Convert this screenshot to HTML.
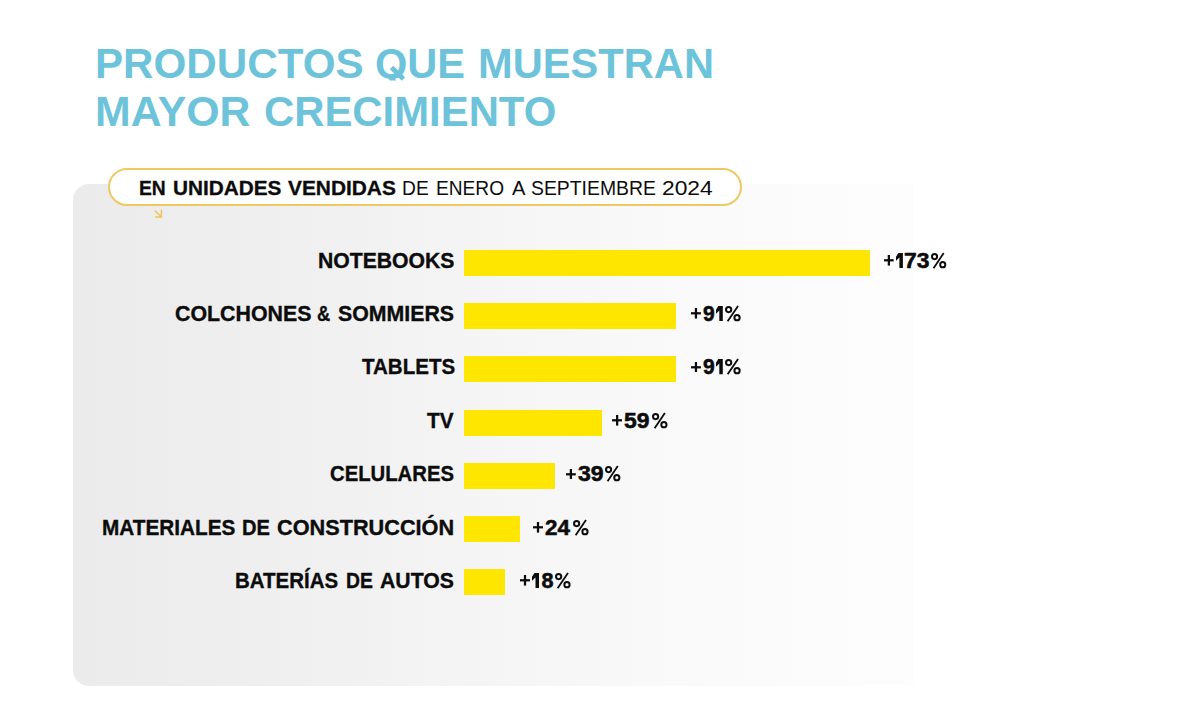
<!DOCTYPE html>
<html>
<head>
<meta charset="utf-8">
<style>
html,body{margin:0;padding:0;}
body{width:1184px;height:726px;background:#ffffff;position:relative;overflow:hidden;font-family:"Liberation Sans",sans-serif;}
.t{position:absolute;white-space:nowrap;line-height:1;transform-origin:0 0;}
.panel{position:absolute;left:73px;top:184px;width:840px;height:502px;border-radius:16px 0 0 16px;background:linear-gradient(to right,#ebebeb 0%,#f1f0f1 28%,#f6f5f6 50%,#fbfafb 75%,#fefdfe 100%);}
.pill{position:absolute;left:108px;top:167.5px;width:630px;height:34px;border:2px solid #EEC862;border-radius:20px;background:#ffffff;}
.bar{position:absolute;left:464px;height:26px;background:#FFE600;}
</style>
</head>
<body>
<div class="panel"></div>
<div class="pill"></div>
<svg style="position:absolute;left:0;top:0;" width="1184" height="726" viewBox="0 0 1184 726"><path d="M391.5 67.5 L403.5 79" stroke="#6DC4DA" stroke-width="5" fill="none"/><path d="M154.6 210.4 L161 216.6 M161.4 209.8 L161.4 217 L155 217" stroke="#EEC55C" stroke-width="1.45" fill="none"/></svg>
<div class="bar" style="top:250px;width:406px;"></div>
<div class="bar" style="top:303px;width:212px;"></div>
<div class="bar" style="top:356px;width:212px;"></div>
<div class="bar" style="top:410px;width:138px;"></div>
<div class="bar" style="top:463px;width:91px;"></div>
<div class="bar" style="top:516px;width:56px;"></div>
<div class="bar" style="top:569px;width:41px;"></div>
<div class="t" style="left:94.99px;top:43.00px;font-size:42px;font-weight:700;color:#6DC4DA;-webkit-text-stroke:0.0px #6DC4DA;transform:scaleX(1.0038)">PRODUCTOS</div>
<div class="t" style="left:375.01px;top:43.00px;font-size:42px;font-weight:700;color:#6DC4DA;-webkit-text-stroke:0.0px #6DC4DA;transform:scaleX(0.9888);clip-path:inset(0 0 4.5px 0)">QUE</div>
<div class="t" style="left:478.02px;top:43.00px;font-size:42px;font-weight:700;color:#6DC4DA;-webkit-text-stroke:0.0px #6DC4DA;transform:scaleX(0.9915)">MUESTRAN</div>
<div class="t" style="left:94.96px;top:91.00px;font-size:42px;font-weight:700;color:#6DC4DA;-webkit-text-stroke:0.0px #6DC4DA;transform:scaleX(1.0200)">MAYOR</div>
<div class="t" style="left:264.00px;top:91.00px;font-size:42px;font-weight:700;color:#6DC4DA;-webkit-text-stroke:0.0px #6DC4DA;transform:scaleX(0.9966)">CRECIMIENTO</div>
<div class="t" style="left:139.00px;top:177.50px;font-size:20px;font-weight:700;color:#0c0c0c;-webkit-text-stroke:0.3px #0c0c0c;transform:scaleX(0.9630)">EN</div>
<div class="t" style="left:173.00px;top:177.50px;font-size:20px;font-weight:700;color:#0c0c0c;-webkit-text-stroke:0.3px #0c0c0c;transform:scaleX(1.0385)">UNIDADES</div>
<div class="t" style="left:288.00px;top:177.50px;font-size:20px;font-weight:700;color:#0c0c0c;-webkit-text-stroke:0.3px #0c0c0c;transform:scaleX(1.0437)">VENDIDAS</div>
<div class="t" style="left:402.04px;top:177.50px;font-size:20px;font-weight:400;color:#0c0c0c;-webkit-text-stroke:0.0px #0c0c0c;transform:scaleX(0.9615)">DE</div>
<div class="t" style="left:436.04px;top:177.50px;font-size:20px;font-weight:400;color:#0c0c0c;-webkit-text-stroke:0.0px #0c0c0c;transform:scaleX(0.9571)">ENERO</div>
<div class="t" style="left:511.50px;top:177.50px;font-size:20px;font-weight:400;color:#0c0c0c;-webkit-text-stroke:0.0px #0c0c0c;transform:scaleX(1.0077)">A</div>
<div class="t" style="left:531.03px;top:177.50px;font-size:20px;font-weight:400;color:#0c0c0c;-webkit-text-stroke:0.0px #0c0c0c;transform:scaleX(0.9685)">SEPTIEMBRE</div>
<div class="t" style="left:661.86px;top:177.50px;font-size:20px;font-weight:400;color:#0c0c0c;-webkit-text-stroke:0.0px #0c0c0c;transform:scaleX(1.1395)">2024</div>
<div class="t" style="left:318.40px;top:250.90px;font-size:21.5px;font-weight:700;color:#0c0c0c;-webkit-text-stroke:0.35px #0c0c0c;transform:scaleX(0.9848)">NOTEBOOKS</div>
<div class="t" style="left:903.60px;top:249.90px;font-size:21.6px;font-weight:700;color:#0c0c0c;-webkit-text-stroke:0.55px #0c0c0c;transform:scaleX(1.0583)">73</div>
<div class="t" style="left:174.80px;top:303.90px;font-size:21.5px;font-weight:700;color:#0c0c0c;-webkit-text-stroke:0.35px #0c0c0c;transform:scaleX(0.9927)">COLCHONES</div>
<div class="t" style="left:317.20px;top:303.90px;font-size:21.5px;font-weight:700;color:#0c0c0c;-webkit-text-stroke:0.35px #0c0c0c;transform:scaleX(0.8500)">&amp;</div>
<div class="t" style="left:338.30px;top:303.90px;font-size:21.5px;font-weight:700;color:#0c0c0c;-webkit-text-stroke:0.35px #0c0c0c;transform:scaleX(0.9915)">SOMMIERS</div>
<div class="t" style="left:702.70px;top:302.90px;font-size:21.6px;font-weight:700;color:#0c0c0c;-webkit-text-stroke:0.55px #0c0c0c;transform:scaleX(0.9750)">9</div>
<div class="t" style="left:361.60px;top:357.30px;font-size:21.5px;font-weight:700;color:#0c0c0c;-webkit-text-stroke:0.35px #0c0c0c;transform:scaleX(0.9546)">TABLETS</div>
<div class="t" style="left:702.70px;top:356.30px;font-size:21.6px;font-weight:700;color:#0c0c0c;-webkit-text-stroke:0.55px #0c0c0c;transform:scaleX(0.9750)">9</div>
<div class="t" style="left:426.90px;top:410.70px;font-size:21.5px;font-weight:700;color:#0c0c0c;-webkit-text-stroke:0.35px #0c0c0c;transform:scaleX(0.9643)">TV</div>
<div class="t" style="left:624.30px;top:409.70px;font-size:21.6px;font-weight:700;color:#0c0c0c;-webkit-text-stroke:0.55px #0c0c0c;transform:scaleX(1.0583)">59</div>
<div class="t" style="left:330.30px;top:464.20px;font-size:21.5px;font-weight:700;color:#0c0c0c;-webkit-text-stroke:0.35px #0c0c0c;transform:scaleX(0.9435)">CELULARES</div>
<div class="t" style="left:577.80px;top:463.20px;font-size:21.6px;font-weight:700;color:#0c0c0c;-webkit-text-stroke:0.55px #0c0c0c;transform:scaleX(1.0667)">39</div>
<div class="t" style="left:101.70px;top:517.90px;font-size:21.5px;font-weight:700;color:#0c0c0c;-webkit-text-stroke:0.35px #0c0c0c;transform:scaleX(0.9652)">MATERIALES</div>
<div class="t" style="left:241.80px;top:517.90px;font-size:21.5px;font-weight:700;color:#0c0c0c;-webkit-text-stroke:0.35px #0c0c0c;transform:scaleX(0.9367)">DE</div>
<div class="t" style="left:277.40px;top:517.90px;font-size:21.5px;font-weight:700;color:#0c0c0c;-webkit-text-stroke:0.35px #0c0c0c;transform:scaleX(1.0086)">CONSTRUCCIÓN</div>
<div class="t" style="left:545.00px;top:516.90px;font-size:21.6px;font-weight:700;color:#0c0c0c;-webkit-text-stroke:0.55px #0c0c0c;transform:scaleX(1.0360)">24</div>
<div class="t" style="left:234.70px;top:570.70px;font-size:21.5px;font-weight:700;color:#0c0c0c;-webkit-text-stroke:0.35px #0c0c0c;transform:scaleX(0.9519)">BATERÍAS</div>
<div class="t" style="left:346.00px;top:570.70px;font-size:21.5px;font-weight:700;color:#0c0c0c;-webkit-text-stroke:0.35px #0c0c0c;transform:scaleX(0.9000)">DE</div>
<div class="t" style="left:380.00px;top:570.70px;font-size:21.5px;font-weight:700;color:#0c0c0c;-webkit-text-stroke:0.35px #0c0c0c;transform:scaleX(0.9867)">AUTOS</div>
<div class="t" style="left:541.50px;top:569.70px;font-size:21.6px;font-weight:700;color:#0c0c0c;-webkit-text-stroke:0.55px #0c0c0c;transform:scaleX(1.0000)">8</div>
<svg style="position:absolute;left:895.80px;top:252.90px" width="6.90" height="15.3" viewBox="0 0 6.90 15.3"><polygon points="2.40,0 6.90,0 6.90,15.3 3.40,15.3 3.40,4.4 0,7.7 0,3.7" fill="#0c0c0c"/></svg>
<svg style="position:absolute;left:716.20px;top:305.90px" width="6.80" height="15.3" viewBox="0 0 6.80 15.3"><polygon points="2.30,0 6.80,0 6.80,15.3 3.30,15.3 3.30,4.4 0,7.7 0,3.7" fill="#0c0c0c"/></svg>
<svg style="position:absolute;left:716.20px;top:359.30px" width="6.80" height="15.3" viewBox="0 0 6.80 15.3"><polygon points="2.30,0 6.80,0 6.80,15.3 3.30,15.3 3.30,4.4 0,7.7 0,3.7" fill="#0c0c0c"/></svg>
<svg style="position:absolute;left:532.00px;top:572.70px" width="7.00" height="15.3" viewBox="0 0 7.00 15.3"><polygon points="2.50,0 7.00,0 7.00,15.3 3.50,15.3 3.50,4.4 0,7.7 0,3.7" fill="#0c0c0c"/></svg>
<svg style="position:absolute;left:883.90px;top:255.30px" width="9.70" height="10.6" viewBox="0 0 9.70 10.6"><rect x="0" y="4.17" width="9.70" height="2.25" fill="#0c0c0c"/><rect x="3.73" y="0" width="2.25" height="10.6" fill="#0c0c0c"/></svg>
<svg style="position:absolute;left:690.80px;top:308.30px" width="9.90" height="10.6" viewBox="0 0 9.90 10.6"><rect x="0" y="4.17" width="9.90" height="2.25" fill="#0c0c0c"/><rect x="3.83" y="0" width="2.25" height="10.6" fill="#0c0c0c"/></svg>
<svg style="position:absolute;left:690.80px;top:361.70px" width="9.90" height="10.6" viewBox="0 0 9.90 10.6"><rect x="0" y="4.17" width="9.90" height="2.25" fill="#0c0c0c"/><rect x="3.83" y="0" width="2.25" height="10.6" fill="#0c0c0c"/></svg>
<svg style="position:absolute;left:612.00px;top:415.10px" width="10.30" height="10.6" viewBox="0 0 10.30 10.6"><rect x="0" y="4.17" width="10.30" height="2.25" fill="#0c0c0c"/><rect x="4.02" y="0" width="2.25" height="10.6" fill="#0c0c0c"/></svg>
<svg style="position:absolute;left:566.40px;top:468.60px" width="9.80" height="10.6" viewBox="0 0 9.80 10.6"><rect x="0" y="4.17" width="9.80" height="2.25" fill="#0c0c0c"/><rect x="3.78" y="0" width="2.25" height="10.6" fill="#0c0c0c"/></svg>
<svg style="position:absolute;left:533.30px;top:522.30px" width="10.00" height="10.6" viewBox="0 0 10.00 10.6"><rect x="0" y="4.17" width="10.00" height="2.25" fill="#0c0c0c"/><rect x="3.88" y="0" width="2.25" height="10.6" fill="#0c0c0c"/></svg>
<svg style="position:absolute;left:520.30px;top:575.10px" width="10.00" height="10.6" viewBox="0 0 10.00 10.6"><rect x="0" y="4.17" width="10.00" height="2.25" fill="#0c0c0c"/><rect x="3.88" y="0" width="2.25" height="10.6" fill="#0c0c0c"/></svg>
<svg style="position:absolute;left:930.80px;top:252.90px;overflow:visible" width="15.30" height="15.3" viewBox="0 0 15.5 15.3" preserveAspectRatio="none"><circle cx="3.6" cy="3.6" r="2.6" stroke="#0c0c0c" stroke-width="2.0" fill="none"/><circle cx="11.9" cy="11.7" r="2.6" stroke="#0c0c0c" stroke-width="2.0" fill="none"/><path d="M2.6 15.3 L12.9 0" stroke="#0c0c0c" stroke-width="1.8"/></svg>
<svg style="position:absolute;left:725.30px;top:305.90px;overflow:visible" width="15.70" height="15.3" viewBox="0 0 15.5 15.3" preserveAspectRatio="none"><circle cx="3.6" cy="3.6" r="2.6" stroke="#0c0c0c" stroke-width="2.0" fill="none"/><circle cx="11.9" cy="11.7" r="2.6" stroke="#0c0c0c" stroke-width="2.0" fill="none"/><path d="M2.6 15.3 L12.9 0" stroke="#0c0c0c" stroke-width="1.8"/></svg>
<svg style="position:absolute;left:725.30px;top:359.30px;overflow:visible" width="15.70" height="15.3" viewBox="0 0 15.5 15.3" preserveAspectRatio="none"><circle cx="3.6" cy="3.6" r="2.6" stroke="#0c0c0c" stroke-width="2.0" fill="none"/><circle cx="11.9" cy="11.7" r="2.6" stroke="#0c0c0c" stroke-width="2.0" fill="none"/><path d="M2.6 15.3 L12.9 0" stroke="#0c0c0c" stroke-width="1.8"/></svg>
<svg style="position:absolute;left:651.70px;top:412.70px;overflow:visible" width="15.50" height="15.3" viewBox="0 0 15.5 15.3" preserveAspectRatio="none"><circle cx="3.6" cy="3.6" r="2.6" stroke="#0c0c0c" stroke-width="2.0" fill="none"/><circle cx="11.9" cy="11.7" r="2.6" stroke="#0c0c0c" stroke-width="2.0" fill="none"/><path d="M2.6 15.3 L12.9 0" stroke="#0c0c0c" stroke-width="1.8"/></svg>
<svg style="position:absolute;left:605.40px;top:466.20px;overflow:visible" width="15.40" height="15.3" viewBox="0 0 15.5 15.3" preserveAspectRatio="none"><circle cx="3.6" cy="3.6" r="2.6" stroke="#0c0c0c" stroke-width="2.0" fill="none"/><circle cx="11.9" cy="11.7" r="2.6" stroke="#0c0c0c" stroke-width="2.0" fill="none"/><path d="M2.6 15.3 L12.9 0" stroke="#0c0c0c" stroke-width="1.8"/></svg>
<svg style="position:absolute;left:572.60px;top:519.90px;overflow:visible" width="15.60" height="15.3" viewBox="0 0 15.5 15.3" preserveAspectRatio="none"><circle cx="3.6" cy="3.6" r="2.6" stroke="#0c0c0c" stroke-width="2.0" fill="none"/><circle cx="11.9" cy="11.7" r="2.6" stroke="#0c0c0c" stroke-width="2.0" fill="none"/><path d="M2.6 15.3 L12.9 0" stroke="#0c0c0c" stroke-width="1.8"/></svg>
<svg style="position:absolute;left:555.10px;top:572.70px;overflow:visible" width="15.60" height="15.3" viewBox="0 0 15.5 15.3" preserveAspectRatio="none"><circle cx="3.6" cy="3.6" r="2.6" stroke="#0c0c0c" stroke-width="2.0" fill="none"/><circle cx="11.9" cy="11.7" r="2.6" stroke="#0c0c0c" stroke-width="2.0" fill="none"/><path d="M2.6 15.3 L12.9 0" stroke="#0c0c0c" stroke-width="1.8"/></svg>
</body>
</html>
